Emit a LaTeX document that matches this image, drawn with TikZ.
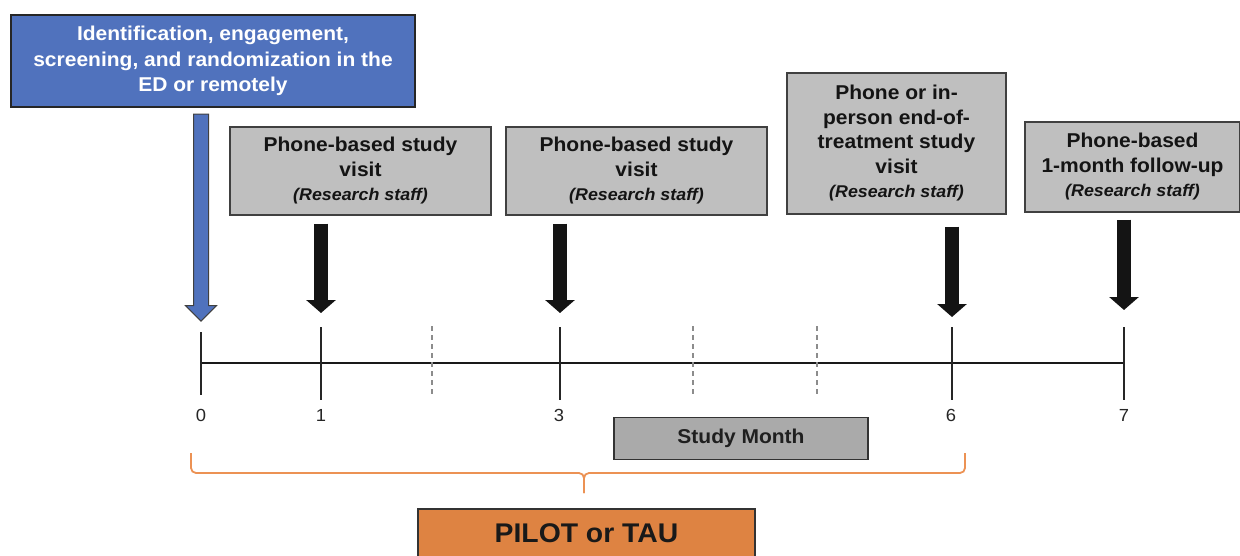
\documentclass[tikz,border=0pt]{standalone}
\usepackage{fontspec}
\setmainfont{Liberation Sans}[FakeStretch=1.05]
\usetikzlibrary{arrows.meta,positioning,shapes.arrows}
\definecolor{edblue}{RGB}{80,114,189}
\definecolor{visitgray}{RGB}{191,191,191}
\definecolor{monthgray}{RGB}{170,170,170}
\definecolor{armorange}{RGB}{222,131,66}
\definecolor{braceorange}{RGB}{236,146,84}
\newcommand{\rstaff}{{\fontsize{17}{22}\selectfont\itshape (Research staff)}}

\begin{document}
\begin{tikzpicture}[x=1pt,y=-1pt,
  intakebox/.style={draw=black!85,fill=edblue,line width=1.3pt,text=white,align=center,
    font=\fontsize{20}{25.5}\selectfont\bfseries,inner sep=0pt},
  visitbox/.style={draw=black!75,fill=visitgray,line width=1.3pt,text=black!92,align=center,
    font=\fontsize{20}{24.5}\selectfont\bfseries,inner sep=0pt},
  visitarrow/.style={line width=14pt,black!92,-{Triangle[width=29pt,length=13pt]}},
  axisline/.style={line width=1.5pt,black!90},
  tickline/.style={line width=1.4pt,black!85},
  dashtick/.style={line width=1.2pt,black!45,dash pattern=on 5pt off 4pt},
  monthlabel/.style={font=\fontsize{17.5}{20}\selectfont,text=black!85},
  armbrace/.style={line width=1.8pt,braceorange,rounded corners=5pt}]
\useasboundingbox (0,0) rectangle (1240,556);

% enrolment box and its arrow
\node[intakebox,minimum width=404,minimum height=92] (intake) at (213,61)
  {Identification, engagement,\\screening, and randomization in the\\ED or remotely};

% time line
\coordinate (t0) at (201,332);
\coordinate (t1) at (321,327);
\coordinate (t3) at (560,327);
\coordinate (t6) at (952,327);
\coordinate (t7) at (1124,327);
\coordinate (axisl) at (201,363);
\coordinate (axisr) at (1125,363);
\draw[axisline] (axisl) -- (axisr);
\draw[tickline] (t0) -- ++(0,63);
\foreach \t in {t1,t3,t6,t7}
  \draw[tickline] (\t) -- ++(0,73);
\foreach \x in {432,693,817}
  \draw[dashtick] (\x,326) -- ++(0,71);

\node[single arrow,draw=black!75,fill=edblue,line width=1pt,rotate=-90,anchor=tail,
  minimum height=207,inner xsep=0pt,inner ysep=7pt,text height=0pt,text depth=0pt,
  single arrow head extend=8pt] (intakearrow) at ([yshift=-6pt]intake.south -| t0) {};

% study visits
\node[visitbox,minimum width=261,minimum height=88] (v1) at (360.5,171)
  {Phone-based study\\visit\\\rstaff};
\node[visitbox,minimum width=261,minimum height=88] (v3) at (636.5,171)
  {Phone-based study\\visit\\\rstaff};
\node[visitbox,minimum width=219,minimum height=141] (v6) at (896.5,143.5)
  {Phone or in-\\person end-of-\\treatment study\\visit\\\rstaff};
\node[visitbox,minimum width=215,minimum height=90] (v7) at (1132.5,167)
  {Phone-based\\1-month follow-up\\\rstaff};

\draw[visitarrow,shorten <=8pt,shorten >=14pt] (v1.south -| t1) -- (t1);
\draw[visitarrow,shorten <=8pt,shorten >=14pt] (v3.south -| t3) -- (t3);
\draw[visitarrow,shorten <=12pt,shorten >=10pt] (v6.south -| t6) -- (t6);
\draw[visitarrow,shorten <=7pt,shorten >=17pt] (v7.south -| t7) -- (t7);

% month numbers
\node[monthlabel] (m0) at (201,415) {0};
\node[monthlabel] (m1) at (321,415) {1};
\node[monthlabel] (m3) at (559,415) {3};
\node[monthlabel] (m6) at (951,415) {6};
\node[monthlabel] (m7) at (1124,415) {7};

\node[draw=black!80,fill=monthgray,line width=1.3pt,minimum width=254,minimum height=42,
  inner sep=0pt,font=\fontsize{20}{24}\selectfont\bfseries,text=black!88] (study) at (741,438.5) {Study Month};

% arm brace
\coordinate (bracel) at (191,453);
\coordinate (bracer) at (965,453);
\coordinate (bracemid) at (584,473);
\coordinate (bracetip) at (584,493);
\draw[armbrace] (bracel) |- (bracemid) -- (bracetip);
\draw[armbrace] (bracer) |- (bracemid) -- (bracetip);

\node[draw=black!80,fill=armorange,line width=1.3pt,minimum width=337,minimum height=48,
  inner sep=0pt,font=\fontsize{27}{30}\selectfont\bfseries,text=black!90] (arm) at (586.5,533) {PILOT or TAU};
\end{tikzpicture}
\end{document}
